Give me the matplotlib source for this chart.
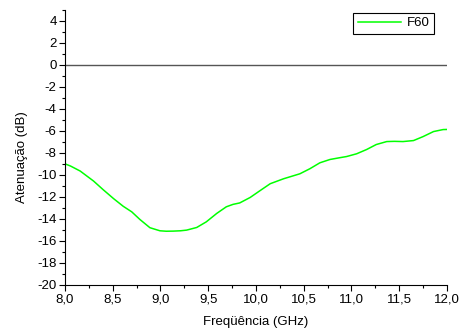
import matplotlib.pyplot as plt
from matplotlib.ticker import MultipleLocator, FuncFormatter

freq = [8.00, 8.06, 8.16, 8.30, 8.40, 8.51, 8.61, 8.70, 8.785, 8.89, 8.995,
        9.06, 9.134, 9.21, 9.274, 9.38, 9.48, 9.59, 9.69, 9.76, 9.83, 9.94,
        10.04, 10.15, 10.29, 10.46, 10.565, 10.67, 10.775, 10.87, 10.95, 11.055,
        11.16, 11.26, 11.37, 11.45, 11.54, 11.65, 11.75, 11.86, 11.96, 12.00]
atten = [-8.99, -9.2, -9.65, -10.56, -11.34, -12.16, -12.85, -13.36, -14.05,
         -14.8, -15.08, -15.12, -15.11, -15.08, -15.02, -14.78, -14.27, -13.5,
         -12.9, -12.68, -12.55, -12.05, -11.45, -10.8, -10.35, -9.9, -9.44, -8.9,
         -8.6, -8.45, -8.33, -8.08, -7.69, -7.24, -6.97, -6.95, -6.97, -6.88,
         -6.52, -6.06, -5.88, -5.87]

xticks = [8.0, 8.5, 9.0, 9.5, 10.0, 10.5, 11.0, 11.5, 12.0]
yticks = list(range(-20, 5, 2))

plt.rcParams['font.family'] = ['Liberation Sans', 'DejaVu Sans']
plt.rcParams['font.size'] = 9.5

fig = plt.figure(figsize=(4.67, 3.29), dpi=100)
ax = fig.add_axes([0.139, 0.134, 0.818, 0.836])

ax.axhline(0, color='#555555', lw=1.0)
ax.plot(freq, atten, color='#00ff00', lw=1.1, label='F60')

ax.set_xlim(8.0, 12.0)
ax.set_ylim(-20, 5)
ax.set_xticks(xticks)
ax.set_yticks(yticks)
ax.xaxis.set_minor_locator(MultipleLocator(0.25))
ax.yaxis.set_minor_locator(MultipleLocator(1))
ax.xaxis.set_major_formatter(FuncFormatter(lambda v, p: f'{v:.1f}'.replace('.', ',')))
ax.yaxis.set_major_formatter(FuncFormatter(lambda v, p: f'{v:.0f}'))

for s in ['top', 'right']:
    ax.spines[s].set_visible(False)
ax.tick_params(which='major', direction='out', length=4, width=0.8, pad=2)
ax.tick_params(which='minor', direction='out', length=2, width=0.8)

ax.set_xlabel('Freqüência (GHz)', labelpad=8)
ax.set_ylabel('Atenuação (dB)')
ax.yaxis.set_label_coords(-0.097, 0.465)

leg = ax.legend(loc='upper right', bbox_to_anchor=(0.966, 0.99), fancybox=False,
                edgecolor='black', framealpha=1, borderpad=0.35, handlelength=3.3,
                handletextpad=0.4, borderaxespad=0)
leg.get_frame().set_linewidth(0.8)

fig.savefig('out.png', dpi=100)
